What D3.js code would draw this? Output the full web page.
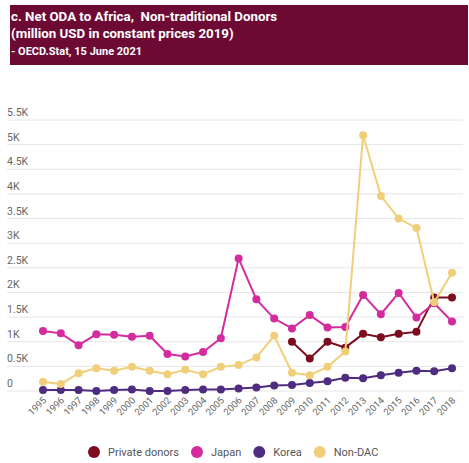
<!DOCTYPE html>
<html lang="en">
<head>
    <meta charset="UTF-8">
    <title>Net ODA to Africa, Non-traditional Donors</title>
    <script src="https://d3js.org/d3.v7.min.js"></script>
<style>
    body { margin: 0; background: #fff; }
    text { font-family: Roboto, "Open Sans", sans-serif; white-space: pre; }
</style>
</head>
<body>
</body>
<script>

// data (million USD, constant 2019 prices)
const years = d3.range(1995, 2019);
const privateDonors = [null, null, null, null, null, null, null, null, null, null, null, null, null, null,
    1000, 660, 1000, 880, 1160, 1090, 1160, 1200, 1900, 1900];
const japan = [1220, 1170, 930, 1150, 1140, 1100, 1120, 750, 700, 790, 1070, 2690,
    1860, 1470, 1270, 1540, 1290, 1300, 1950, 1560, 1990, 1490, 1780, 1410];
const korea = [20, 20, 20, 0, 20, 30, 0, 0, 20, 30, 30, 50,
    70, 110, 120, 160, 200, 270, 260, 320, 370, 410, 400, 460];
const nonDac = [190, 140, 360, 460, 410, 490, 410, 340, 430, 340, 490, 530,
    680, 1120, 370, 320, 490, 800, 5190, 3960, 3500, 3310, 1800, 2400];
const yTicks = [0, 500, 1000, 1500, 2000, 2500, 3000, 3500, 4000, 4500, 5000, 5500];
const yTickLabels = ['0', '0.5K', '1K', '1.5K', '2K', '2.5K', '3K', '3.5K', '4K', '4.5K', '5K', '5.5K'];

const series = [
    { name: 'Private donors', values: privateDonors, color: '#7c0d1f' },
    { name: 'Japan', values: japan, color: '#d42c9f' },
    { name: 'Korea', values: korea, color: '#4e2c80' },
    { name: 'Non-DAC', values: nonDac, color: '#f1cf7a' }
];

const width = 469, height = 463;
const svg = d3.select('body').append('svg')
    .attr('width', width)
    .attr('height', height);

// title banner
svg.append('rect')
    .attr('x', 10).attr('y', 5)
    .attr('width', 458).attr('height', 60)
    .attr('fill', '#6c0a34');
const title = svg.append('g').attr('fill', '#fff').attr('font-weight', 700);
title.append('text').attr('x', 11).attr('y', 21).attr('font-size', 13.3)
    .text('c. Net ODA to Africa,  Non-traditional Donors');
title.append('text').attr('x', 11).attr('y', 38).attr('font-size', 13.3)
    .text('(million USD in constant prices 2019)');
title.append('text').attr('x', 11).attr('y', 55).attr('font-size', 11)
    .text('- OECD.Stat, 15 June 2021');

const x = d3.scalePoint().domain(years).range([43, 452]);
const y = d3.scaleLinear().domain([0, 5500]).range([391, 120]);

// gridlines + y labels
const yAxis = svg.append('g');
yAxis.selectAll('line')
    .data(yTicks)
    .join('line')
    .attr('x1', 7).attr('x2', 463)
    .attr('y1', d => y(d)).attr('y2', d => y(d))
    .attr('stroke', '#e6e6e6')
    .attr('stroke-width', 1);
yAxis.selectAll('text')
    .data(yTicks)
    .join('text')
    .attr('x', 7)
    .attr('y', d => y(d) - 4)
    .attr('font-size', 10.5)
    .attr('fill', '#666')
    .text((d, i) => yTickLabels[i]);

// x labels, rotated
svg.append('g').selectAll('text')
    .data(years)
    .join('text')
    .attr('transform', d => `translate(${x(d) + 4},${401}) rotate(-45)`)
    .attr('text-anchor', 'end')
    .attr('font-size', 9.5)
    .attr('fill', '#666')
    .text(d => d);

const line = d3.line()
    .defined(d => d.v !== null)
    .x(d => x(d.year))
    .y(d => y(d.v));

series.forEach(s => {
    const pts = years.map((yr, i) => ({ year: yr, v: s.values[i] }));
    const g = svg.append('g');
    g.append('path')
        .datum(pts)
        .attr('d', line)
        .attr('fill', 'none')
        .attr('stroke', s.color)
        .attr('stroke-width', 2);
    g.selectAll('circle')
        .data(pts.filter(d => d.v !== null))
        .join('circle')
        .attr('cx', d => x(d.year))
        .attr('cy', d => y(d.v))
        .attr('r', 4)
        .attr('fill', s.color);
});

// legend
const legend = svg.append('g').attr('transform', 'translate(0,452)');
let lx = 94;
series.forEach(s => {
    const item = legend.append('g').attr('transform', `translate(${lx},0)`);
    item.append('circle').attr('r', 6).attr('fill', s.color);
    const t = item.append('text')
        .attr('x', 14).attr('y', 4)
        .attr('font-size', 11)
        .attr('fill', '#555')
        .text(s.name);
    lx += 14 + t.node().getComputedTextLength() + 18;
});

</script>
</html>
